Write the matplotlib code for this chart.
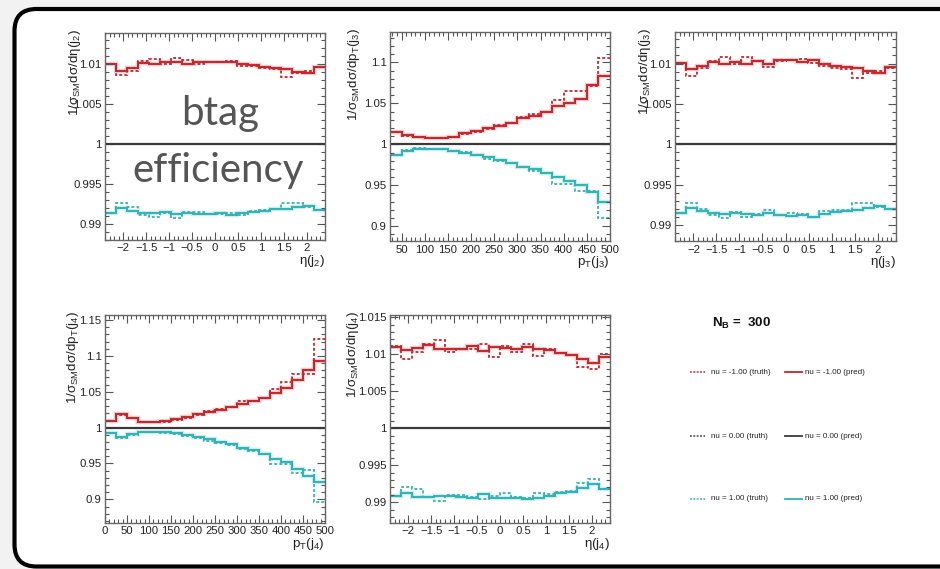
import numpy as np
import matplotlib
matplotlib.use("Agg")
import matplotlib.pyplot as plt
from matplotlib.patches import FancyBboxPatch
from matplotlib.lines import Line2D
from matplotlib.ticker import MultipleLocator, FuncFormatter

plt.rcParams["font.family"] = ["Liberation Sans", "DejaVu Sans"]
plt.rcParams["mathtext.fontset"] = "custom"
plt.rcParams["mathtext.rm"] = "Liberation Sans"
plt.rcParams["mathtext.it"] = "Liberation Sans:italic"
plt.rcParams["mathtext.bf"] = "Liberation Sans:bold"

# ---- binning -------------------------------------------------------------
ETA_RANGE = (-2.4, 2.4)
N_ETA = 20
PT3_RANGE = (25, 500)
N_PT3 = 19
PT4_RANGE = (0, 500)
N_PT4 = 20

# ---- eta(j2) -------------------------------------------------------------
eta2_red_pred = [1.01008, 1.00917, 1.00955, 1.01017, 1.00996, 1.01021, 1.01033, 1.01008, 1.01025, 1.01033,
                 1.01033, 1.01021, 1.01008, 1.00992, 1.00967, 1.00955, 1.00942, 1.00905, 1.00893, 1.00959]
eta2_red_truth = [1.01000, 1.00864, 1.00917, 1.01041, 1.01070, 1.00996, 1.01083, 1.01058, 1.01008, 1.01029,
                  1.01033, 1.01041, 1.00979, 1.00975, 1.00946, 1.00938, 1.00835, 1.00884, 1.00913, 1.00967]
eta2_cyan_pred = [0.99142, 0.99196, 0.99167, 0.99142, 0.99133, 0.99150, 0.99125, 0.99133, 0.99125, 0.99125,
                  0.99133, 0.99113, 0.99133, 0.99154, 0.99167, 0.99183, 0.99192, 0.99217, 0.99225, 0.99175]
eta2_cyan_truth = [0.99142, 0.99258, 0.99217, 0.99113, 0.99083, 0.99142, 0.99079, 0.99150, 0.99154, 0.99125,
                   0.99121, 0.99133, 0.99113, 0.99158, 0.99175, 0.99183, 0.99267, 0.99267, 0.99217, 0.99175]

# ---- pT(j3) --------------------------------------------------------------
pt3_red_pred = [1.0154, 1.0114, 1.0085, 1.0073, 1.0073, 1.0094, 1.0134, 1.0163, 1.0195, 1.0224,
                1.0256, 1.0317, 1.0350, 1.0398, 1.0467, 1.0508, 1.0553, 1.0724, 1.0837]
pt3_red_truth = [1.0154, 1.0102, 1.0085, 1.0073, 1.0073, 1.0085, 1.0126, 1.0154, 1.0183, 1.0236,
                 1.0256, 1.0329, 1.0366, 1.0394, 1.0541, 1.0654, 1.0654, 1.0715, 1.1057]
pt3_cyan_pred = [0.9870, 0.9923, 0.9939, 0.9943, 0.9939, 0.9923, 0.9898, 0.9870, 0.9841, 0.9809,
                 0.9776, 0.9728, 0.9695, 0.9654, 0.9606, 0.9557, 0.9504, 0.9423, 0.9301]
pt3_cyan_truth = [0.9870, 0.9931, 0.9951, 0.9943, 0.9939, 0.9923, 0.9902, 0.9870, 0.9817, 0.9801,
                  0.9776, 0.9720, 0.9679, 0.9654, 0.9512, 0.9512, 0.9431, 0.9431, 0.9098]

# ---- eta(j3) -------------------------------------------------------------
eta3_red_pred = [1.01008, 1.00938, 1.00967, 1.01021, 1.00996, 1.01017, 1.01000, 1.01025, 1.00996, 1.01041,
                 1.01041, 1.01021, 1.01041, 1.00988, 1.00967, 1.00955, 1.00946, 1.00905, 1.00884, 1.00955]
eta3_red_truth = [1.01000, 1.00851, 1.00946, 1.01029, 1.01083, 1.00988, 1.01079, 1.01029, 1.00959, 1.01025,
                  1.01041, 1.01058, 1.01008, 1.00967, 1.00946, 1.00938, 1.00822, 1.00884, 1.00913, 1.00946]
eta3_cyan_pred = [0.99142, 0.99204, 0.99175, 0.99142, 0.99133, 0.99142, 0.99133, 0.99121, 0.99142, 0.99121,
                  0.99113, 0.99125, 0.99100, 0.99133, 0.99163, 0.99175, 0.99183, 0.99204, 0.99229, 0.99192]
eta3_cyan_truth = [0.99142, 0.99267, 0.99196, 0.99125, 0.99083, 0.99154, 0.99092, 0.99129, 0.99183, 0.99125,
                   0.99142, 0.99133, 0.99092, 0.99167, 0.99183, 0.99183, 0.99271, 0.99271, 0.99217, 0.99192]

# ---- pT(j4) --------------------------------------------------------------
pt4_red_pred = [1.0099, 1.0193, 1.0132, 1.0085, 1.0085, 1.0094, 1.0118, 1.0146, 1.0189, 1.0217,
                1.0250, 1.0283, 1.0335, 1.0368, 1.0415, 1.0486, 1.0557, 1.0660, 1.0807, 1.0934]
pt4_red_truth = [1.0099, 1.0179, 1.0132, 1.0085, 1.0075, 1.0075, 1.0108, 1.0132, 1.0179, 1.0226,
                 1.0264, 1.0283, 1.0368, 1.0368, 1.0415, 1.0542, 1.0637, 1.0745, 1.0745, 1.1231]
pt4_cyan_pred = [0.9929, 0.9863, 0.9906, 0.9934, 0.9934, 0.9934, 0.9920, 0.9896, 0.9863, 0.9835,
                 0.9802, 0.9778, 0.9717, 0.9684, 0.9637, 0.9566, 0.9519, 0.9425, 0.9330, 0.9236]
pt4_cyan_truth = [0.9929, 0.9849, 0.9896, 0.9934, 0.9934, 0.9929, 0.9910, 0.9882, 0.9849, 0.9816,
                  0.9788, 0.9755, 0.9698, 0.9675, 0.9637, 0.9495, 0.9495, 0.9363, 0.9410, 0.8962]

# ---- eta(j4) -------------------------------------------------------------
eta4_red_pred = [1.01099, 1.01054, 1.01086, 1.01122, 1.01077, 1.01068, 1.01068, 1.01113, 1.01045, 1.01099,
                 1.01086, 1.01077, 1.01099, 1.01077, 1.01054, 1.01023, 1.00995, 1.00941, 1.00887, 1.00964]
eta4_red_truth = [1.01108, 1.00941, 1.01032, 1.01135, 1.01189, 1.01032, 1.01077, 1.01077, 1.01144, 1.00964,
                  1.01108, 1.01032, 1.01144, 1.00973, 1.01077, 1.01023, 1.00986, 1.00829, 1.00806, 1.01000]
eta4_cyan_pred = [0.99086, 0.99122, 0.99077, 0.99068, 0.99090, 0.99090, 0.99077, 0.99063, 0.99113, 0.99054,
                  0.99054, 0.99059, 0.99045, 0.99054, 0.99086, 0.99122, 0.99144, 0.99198, 0.99243, 0.99180]
eta4_cyan_truth = [0.99086, 0.99212, 0.99176, 0.99068, 0.99018, 0.99099, 0.99099, 0.99068, 0.99041, 0.99090,
                   0.99122, 0.99077, 0.99059, 0.99122, 0.99113, 0.99135, 0.99153, 0.99257, 0.99315, 0.99176]

NU0_RATIO = 1.0
N_B = 300
legend_labels = ["nu = -1.00", "nu = 0.00", "nu = 1.00"]

RED = "#c3262c"
CYAN = "#33b2b4"
GRAY = "#3a3a3a"


def fmt(v, pos):
    return f"{v:g}".replace("-", "\u2212")


def draw_panel(ax, edges, red_pred, red_truth, cyan_pred, cyan_truth, ylim, xmaj, xmin, ymaj, ymin,
               ylabel, xlabel, ylab_x):
    ax.set_facecolor("none")
    for pred, truth, col in [(red_pred, red_truth, RED), (cyan_pred, cyan_truth, CYAN)]:
        ax.stairs(truth, edges, color=col, lw=1.3, ls=(0, (1.6, 1.2)), baseline=None)
        ax.stairs(pred, edges, color=col, lw=3.2, alpha=0.25, baseline=None)
        ax.stairs(pred, edges, color=col, lw=1.4, baseline=None)
    ax.axhline(NU0_RATIO, color=GRAY, lw=1.6)
    ax.set_xlim(edges[0], edges[-1])
    ax.set_ylim(*ylim)
    ax.xaxis.set_major_locator(MultipleLocator(xmaj))
    ax.xaxis.set_minor_locator(MultipleLocator(xmin))
    ax.yaxis.set_major_locator(MultipleLocator(ymaj))
    ax.yaxis.set_minor_locator(MultipleLocator(ymin))
    ax.xaxis.set_major_formatter(FuncFormatter(fmt))
    ax.yaxis.set_major_formatter(FuncFormatter(fmt))
    ax.tick_params(which="both", direction="in", top=True, right=True, colors="#555555",
                   labelcolor="#222222", labelsize=8.2, width=0.8)
    ax.tick_params(which="major", length=6, pad=2.5)
    ax.tick_params(which="minor", length=3)
    for s in ax.spines.values():
        s.set_color("#666666")
        s.set_linewidth(1.0)
    ax.text(ylab_x, 1.02, ylabel, transform=ax.transAxes, rotation=90, ha="center", va="top",
            fontsize=9.6, color="#222222")
    ax.text(1.0, -0.10, xlabel, transform=ax.transAxes, ha="right", va="center",
            fontsize=9.6, color="#222222")


fig = plt.figure(figsize=(9.4, 5.69), dpi=100)
fig.patch.set_facecolor("#f2f2f2")
frame = FancyBboxPatch((0.145, 0.025), 9.6, 5.575, boxstyle="round,pad=0,rounding_size=0.22",
                       transform=fig.dpi_scale_trans, facecolor="white", edgecolor="black",
                       lw=3.0, zorder=-5)
fig.add_artist(frame)

eta_edges = np.linspace(ETA_RANGE[0], ETA_RANGE[1], N_ETA + 1)
pt3_edges = np.linspace(PT3_RANGE[0], PT3_RANGE[1], N_PT3 + 1)
pt4_edges = np.linspace(PT4_RANGE[0], PT4_RANGE[1], N_PT4 + 1)

ax1 = fig.add_axes([0.1117, 0.5782, 0.2340, 0.3638])
ax2 = fig.add_axes([0.4149, 0.5764, 0.2340, 0.3673])
ax3 = fig.add_axes([0.7181, 0.5764, 0.2351, 0.3673])
ax4 = fig.add_axes([0.1117, 0.0808, 0.2340, 0.3656])
ax5 = fig.add_axes([0.4149, 0.0808, 0.2340, 0.3656])

draw_panel(ax1, eta_edges, eta2_red_pred, eta2_red_truth, eta2_cyan_pred, eta2_cyan_truth,
           (0.988, 1.0139), 0.5, 0.1, 0.005, 0.001,
           r"1/σ$_{\rm SM}$dσ/dη(j$_{2}$)", r"η(j$_{2}$)", -0.135)
draw_panel(ax2, pt3_edges, pt3_red_pred, pt3_red_truth, pt3_cyan_pred, pt3_cyan_truth,
           (0.882, 1.137), 50, 10, 0.05, 0.01,
           r"1/σ$_{\rm SM}$dσ/dp$_{\rm T}$(j$_{3}$)", r"p$_{\rm T}$(j$_{3}$)", -0.165)
draw_panel(ax3, eta_edges, eta3_red_pred, eta3_red_truth, eta3_cyan_pred, eta3_cyan_truth,
           (0.988, 1.0139), 0.5, 0.1, 0.005, 0.001,
           r"1/σ$_{\rm SM}$dσ/dη(j$_{3}$)", r"η(j$_{3}$)", -0.135)
draw_panel(ax4, pt4_edges, pt4_red_pred, pt4_red_truth, pt4_cyan_pred, pt4_cyan_truth,
           (0.867, 1.157), 50, 10, 0.05, 0.01,
           r"1/σ$_{\rm SM}$dσ/dp$_{\rm T}$(j$_{4}$)", r"p$_{\rm T}$(j$_{4}$)", -0.145)
draw_panel(ax5, eta_edges, eta4_red_pred, eta4_red_truth, eta4_cyan_pred, eta4_cyan_truth,
           (0.9872, 1.0153), 0.5, 0.1, 0.005, 0.001,
           r"1/σ$_{\rm SM}$dσ/dη(j$_{4}$)", r"η(j$_{4}$)", -0.17)

# slide annotation
fig.text(220 / 940, 1 - 114 / 569, "btag", fontsize=29, color="#555555", ha="center", va="center",
         family=["Lato", "DejaVu Sans"])
fig.text(218 / 940, 1 - 171 / 569, "efficiency", fontsize=29, color="#555555", ha="center", va="center",
         family=["Lato", "DejaVu Sans"])

# legend block
fig.text(712 / 940, 1 - 323 / 569, r"N$_{\mathbf{B}}$ =  " + str(N_B), fontsize=9.5, fontweight="bold",
         ha="left", va="center", color="#111111")
rows_y = [372, 436, 499]
for lab, col, yy in zip(legend_labels, [RED, GRAY, CYAN], rows_y):
    yf = 1 - yy / 569
    fig.add_artist(Line2D([690 / 940, 705 / 940], [yf, yf], color=col, lw=1.1, ls=(0, (1.2, 1.0)),
                          transform=fig.transFigure))
    fig.text(711 / 940, yf, lab + " (truth)", fontsize=5.8, ha="left", va="center", color="#222222")
    fig.add_artist(Line2D([785 / 940, 802 / 940], [yf, yf], color=col, lw=1.3,
                          transform=fig.transFigure))
    fig.text(805 / 940, yf, lab + " (pred)", fontsize=5.8, ha="left", va="center", color="#222222")

fig.savefig("out.png", dpi=100)
